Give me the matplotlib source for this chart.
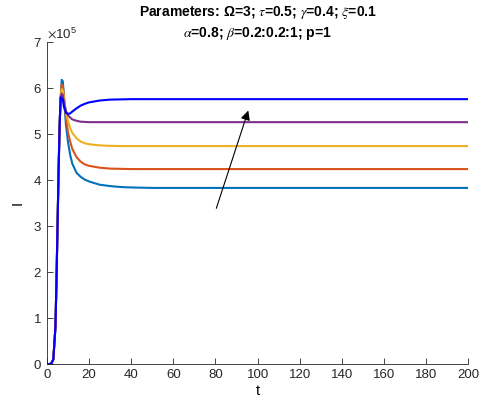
import matplotlib
matplotlib.use("Agg")
from matplotlib import pyplot as plt
from matplotlib.ticker import ScalarFormatter

plt.rcParams["font.family"] = ["Liberation Sans", "DejaVu Sans"]
plt.rcParams["mathtext.fontset"] = "stix"

# time points (days) and infected I (in units of 1e5)
t = [0, 1, 2, 3, 4, 4.5, 5, 5.5, 6, 6.5, 7, 7.5, 8, 9, 10, 11, 12, 14, 16, 18,
     20, 25, 30, 35, 40, 50, 60, 80, 200]
rise = [0, 0, 0.01, 0.1, 0.8, 1.8, 3.0, 4.2, 5.2, 5.8]

beta02 = rise + [6.18, 6.15, 5.85, 5.2, 4.82, 4.55, 4.36, 4.16, 4.07, 4.01,
                 3.97, 3.90, 3.87, 3.85, 3.84, 3.83, 3.83, 3.83, 3.83]
beta04 = rise + [6.08, 6.05, 5.85, 5.35, 5.03, 4.84, 4.68, 4.50, 4.40, 4.34,
                 4.31, 4.27, 4.25, 4.245, 4.24, 4.24, 4.24, 4.24, 4.24]
beta06 = rise + [5.98, 5.95, 5.8, 5.47, 5.28, 5.13, 5.03, 4.91, 4.84, 4.80,
                 4.78, 4.755, 4.745, 4.74, 4.74, 4.74, 4.74, 4.74, 4.74]
beta08 = rise + [5.88, 5.85, 5.7, 5.5, 5.41, 5.36, 5.32, 5.29, 5.27, 5.265,
                 5.26, 5.26, 5.26, 5.26, 5.26, 5.26, 5.26, 5.26, 5.26]
beta10 = rise + [5.78, 5.76, 5.6, 5.46, 5.44, 5.45, 5.49, 5.56, 5.62, 5.66,
                 5.69, 5.73, 5.75, 5.755, 5.76, 5.76, 5.76, 5.76, 5.76]

series = [beta02, beta04, beta06, beta08, beta10]
colors = ["#0072BD", "#D95319", "#EDB120", "#7E2F8E", "#0000FF"]

fig = plt.figure(figsize=(4.83, 4.05), dpi=100)
ax = fig.add_axes([0.0973, 0.101, 0.872, 0.795])

for vals, c in zip(series, colors):
    ax.plot(t, [v * 1e5 for v in vals], color=c, linewidth=1.5)

ax.annotate("", xy=(96, 5.57e5), xytext=(80, 3.33e5),
            arrowprops=dict(arrowstyle="-|>", color="black", lw=0.8,
                            mutation_scale=14))

ax.set_xlim(0, 200)
ax.set_ylim(0, 7e5)
ax.set_xticks(range(0, 201, 20))
ax.set_yticks([i * 1e5 for i in range(8)])
fmt = ScalarFormatter(useMathText=True)
fmt.set_powerlimits((0, 0))
ax.yaxis.set_major_formatter(fmt)
ax.yaxis.get_offset_text().set_fontsize(9.5)

for s in ["top", "right"]:
    ax.spines[s].set_visible(False)
for s in ["left", "bottom"]:
    ax.spines[s].set_color("#262626")
    ax.spines[s].set_linewidth(0.6)
ax.tick_params(direction="in", length=4, width=0.6, labelsize=9.5,
               colors="#262626")

ax.set_xlabel("t", fontsize=10.5, labelpad=2)
ax.set_ylabel("I", fontsize=10.5, labelpad=6)
ax.set_title("Parameters: Ω=3; $\\tau$=0.5; $\\gamma$=0.4; $\\xi$=0.1\n"
             "$\\alpha$=0.8; $\\beta$=0.2:0.2:1; p=1",
             fontsize=10, fontweight="bold", pad=3, linespacing=1.35)

fig.savefig("out.png", dpi=100)
